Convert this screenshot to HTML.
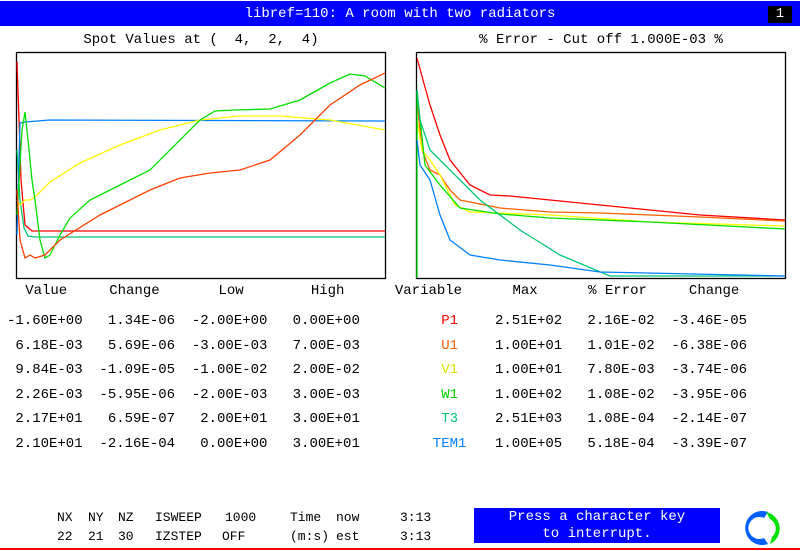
<!DOCTYPE html>
<html><head><meta charset="utf-8"><style>
body{margin:0;width:800px;height:551px;background:#fff;overflow:hidden;position:relative;font-family:"Liberation Mono",monospace;font-size:14px;color:#000}
.t{position:absolute;white-space:pre;line-height:16px}
.b{position:absolute;white-space:pre;font-size:13px;line-height:16px}
.bar{position:absolute;left:0;top:1px;width:800px;height:25px;background:#0000ff}
</style></head><body>
<div class="bar"></div>
<div class="t" style="left:0;top:6px;width:800px;text-align:center;color:#fff">libref=110: A room with two radiators</div>
<div style="position:absolute;left:768px;top:6px;width:24px;height:17px;background:#000"></div>
<div class="t" style="left:768px;top:6px;width:24px;text-align:center;color:#fff">1</div>
<div class="t" style="left:16px;top:32px;width:370px;text-align:center">Spot Values at (  4,  2,  4)</div>
<div class="t" style="left:416px;top:32px;width:370px;text-align:center">% Error - Cut off 1.000E-03 %</div>
<svg width="800" height="551" style="position:absolute;left:0;top:0" fill="none" stroke-width="1.3">
<rect x="16.5" y="52.5" width="369" height="226" stroke="#000"/>
<rect x="416.5" y="52.5" width="369" height="226" stroke="#000"/>
<polyline stroke="#ff0000" points="17,62 19,120 21,180 25,225 32,231 385,231"/>
<polyline stroke="#00c878" points="17,150 20,200 24,228 28,236 35,237 385,237"/>
<polyline stroke="#0080ff" points="17,235 19,160 20,123 25,122 50,120 385,121"/>
<polyline stroke="#ffff00" points="17,200 20,205 25,200 30,200 35,197 50,182 80,163 120,145 160,130 200,120 240,116 280,116 330,120 385,130"/>
<polyline stroke="#00e000" points="17,215 22,130 25,112 28,140 32,180 35,200 40,240 45,258 50,255 60,235 70,218 90,200 120,185 150,170 180,140 200,120 215,111 235,110 270,109 300,100 330,83 350,74 365,76 385,88"/>
<polyline stroke="#ff4000" points="17,190 20,240 25,258 30,255 35,258 45,255 60,240 100,215 150,190 180,178 210,173 240,170 270,160 300,135 330,105 360,85 385,73"/>
<polyline stroke="#ff0000" points="417,58 423,80 430,105 440,135 450,160 470,185 490,195 510,196 550,200 600,205 650,210 700,215 785,220"/>
<polyline stroke="#ff6000" points="417,100 422,150 430,170 440,175 450,190 460,200 500,208 550,212 600,213 700,217 785,221"/>
<polyline stroke="#ffff00" points="417,120 422,150 430,160 440,175 455,205 470,212 550,215 650,222 785,226"/>
<polyline stroke="#00e000" points="417,278 417,90 418,100 425,165 440,185 460,208 500,214 550,218 650,222 785,229"/>
<polyline stroke="#00c878" points="417,90 420,120 430,150 450,170 480,200 520,230 560,255 610,276 785,276"/>
<polyline stroke="#0080ff" points="417,140 420,165 430,180 440,215 450,240 470,255 500,260 550,265 600,272 785,276"/>
<line x1="0" y1="549" x2="800" y2="549" stroke="#ff0000" stroke-width="2"/>
<path d="M768,512 A17,17 0 1 0 768,544 L764,538 A11,11 0 1 1 764,518 Z" fill="#0060ff" stroke="none"/>
<path d="M766,512 A17,17 0 0 1 770,544 L772,537 A11,11 0 0 0 770,519 Z" fill="#00e000" stroke="none"/>
</svg>
<div class="t" style="left:0;top:283px">   Value     Change       Low        High      Variable      Max      % Error     Change</div>
<div class="t" style="left:7px;top:309px;line-height:24.5px">-1.60E+00   1.34E-06  -2.00E+00   0.00E+00
 6.18E-03   5.69E-06  -3.00E-03   7.00E-03
 9.84E-03  -1.09E-05  -1.00E-02   2.00E-02
 2.26E-03  -5.95E-06  -2.00E-03   3.00E-03
 2.17E+01   6.59E-07   2.00E+01   3.00E+01
 2.10E+01  -2.16E-04   0.00E+00   3.00E+01</div>
<div class="t" style="left:416px;top:309px;line-height:24.5px"><span style="color:#ff0000">   P1</span>
<span style="color:#ff6000">   U1</span>
<span style="color:#e0e000">   V1</span>
<span style="color:#00d000">   W1</span>
<span style="color:#00c878">   T3</span>
<span style="color:#0080ff">  TEM1</span></div>
<div class="t" style="left:495px;top:309px;line-height:24.5px">2.51E+02   2.16E-02  -3.46E-05
1.00E+01   1.01E-02  -6.38E-06
1.00E+01   7.80E-03  -3.74E-06
1.00E+02   1.08E-02  -3.95E-06
2.51E+03   1.08E-04  -2.14E-07
1.00E+05   5.18E-04  -3.39E-07</div>
<div class="b" style="left:57px;top:510px">NX</div><div class="b" style="left:88px;top:510px">NY</div><div class="b" style="left:118px;top:510px">NZ</div>
<div class="b" style="left:155px;top:510px">ISWEEP</div><div class="b" style="left:225px;top:510px">1000</div>
<div class="b" style="left:290px;top:510px">Time</div><div class="b" style="left:336px;top:510px">now</div><div class="b" style="left:400px;top:510px">3:13</div>
<div class="b" style="left:57px;top:529px">22</div><div class="b" style="left:88px;top:529px">21</div><div class="b" style="left:118px;top:529px">30</div>
<div class="b" style="left:155px;top:529px">IZSTEP</div><div class="b" style="left:222px;top:529px">OFF</div>
<div class="b" style="left:290px;top:529px">(m:s)</div><div class="b" style="left:336px;top:529px">est</div><div class="b" style="left:400px;top:529px">3:13</div>
<div style="position:absolute;left:474px;top:508px;width:246px;height:35px;background:#0000ff"></div>
<div class="t" style="left:474px;top:509px;width:246px;text-align:center;color:#fff;line-height:17px">Press a character key
to interrupt.</div>
</body></html>
